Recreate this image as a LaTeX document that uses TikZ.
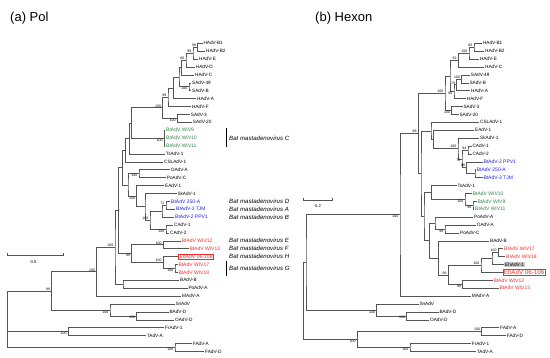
\documentclass[tikz,border=0pt]{standalone}
\usepackage{fontspec}
\setmainfont{Liberation Sans}
\usetikzlibrary{arrows.meta,calc,positioning}
\definecolor{treegray}{HTML}{555555}
\definecolor{batgreen}{HTML}{2E8540}
\definecolor{batblue}{HTML}{1E1EF0}
\definecolor{batred}{HTML}{F42A2A}
\tikzset{
  br/.style={draw=treegray,line width=0.55pt},
  lf/.style={anchor=west,inner sep=0.8pt,font=\fontsize{4.7}{5}\selectfont},
  bat/.style={text=#1,font=\fontsize{5}{5}\selectfont},
  bs/.style={inner sep=0.3pt,font=\fontsize{3.5}{4}\selectfont},
  al/.style={anchor=south east,xshift=-1.2pt,yshift=0.2pt},
  bl/.style={anchor=north east,xshift=-1.2pt,yshift=-0.2pt},
  grp/.style={anchor=west,inner sep=0pt,font=\fontsize{6.1}{7}\selectfont\itshape},
  ttl/.style={anchor=west,inner sep=0pt,font=\fontsize{13}{14}\selectfont},
  boxed/.style={draw=batred,text=batred,line width=0.4pt,inner sep=1pt,font=\fontsize{#1}{6}\selectfont},
}
% leaf: name, x, row, text
\newcommand\leaf[5][]{\node[lf,#1] (#2) at (#3,{43.3+7.9*#4}) {#5};}
% clade: name, x, upper child, lower child
\newcommand\clade[4]{%
  \path let \p1=(#3), \p2=(#4) in coordinate (#1) at (#2pt,{0.5*(\y1+\y2)});
  \draw[br] (#3) -| (#1) |- (#4);}
\newcommand\boot[3]{\node[bs,#2] (b-#1) at (#1) {#3};}
\begin{document}
\begin{tikzpicture}[x=1pt,y=-1pt]
  \useasboundingbox (0,0) rectangle (550,358);
  \node[ttl] (ttlA) at (10,18.3) {(a) Pol};
  \node[ttl] (ttlB) at (315,18.3) {(b) Hexon};

  % ---- Pol ----
  \leaf{pB1}{202.5}{0}{HAdV-B1}
  \leaf{pB2}{205.2}{1}{HAdV-B2}
  \leaf{pHE}{198.2}{2}{HAdV-E}
  \leaf{pHD}{194.9}{3}{HAdV-D}
  \leaf{pHC}{194.2}{4}{HAdV-C}
  \leaf{pS49l}{191.2}{5}{SAdV-49}
  \leaf{pSB}{191.2}{6}{SAdV-B}
  \leaf{pHA}{196.2}{7}{HAdV-A}
  \leaf{pHF}{191.2}{8}{HAdV-F}
  \leaf{pS3l}{189.9}{9}{SAdV-3}
  \leaf{pS20}{191.9}{10}{SAdV-20}
  \leaf[bat=batgreen]{pW9}{165.2}{11}{BtAdV WIV9}
  \leaf[bat=batgreen]{pW10}{165.2}{12}{BtAdV WIV10}
  \leaf[bat=batgreen]{pW11}{165.2}{13}{BtAdV WIV11}
  \leaf{pTs1}{164.9}{14}{TsAdV-1}
  \leaf{pCSL1}{163.2}{15}{CSLAdV-1}
  \leaf{pOA1}{169.9}{16}{OAdV-A}
  \leaf{pPoC}{165.9}{17}{PoAdV-C}
  \leaf{pEAd}{164.2}{18}{EAdV-1}
  \leaf{pSk1}{176.5}{19}{SkAdV-1}
  \leaf[bat=batblue]{p250}{170.2}{20}{BtAdV 250-A}
  \leaf[bat=batblue]{p3TJM}{175.2}{21}{BtAdV-3 TJM}
  \leaf[bat=batblue]{pPPV1}{174.2}{22}{BtAdV-2 PPV1}
  \leaf{pCAd1}{173.2}{23}{CAdV-1}
  \leaf{pCAd2}{169.2}{24}{CAdV-2}
  \leaf[bat=batred]{pW12}{180.9}{25}{BtAdV WIV12}
  \leaf[bat=batred]{pW13}{188.5}{26}{BtAdV WIV13}
  \leaf[boxed=5.1]{pEd1}{178.3}{27}{EdAdV 06-106}
  \leaf[bat=batred]{pW17}{177.5}{28}{BtAdV WIV17}
  \leaf[bat=batred]{pW18}{177.5}{29}{BtAdV WIV18}
  \leaf{pBAB}{179.2}{30}{BAdV-B}
  \leaf{pPoA}{187.5}{31}{PoAdV-A}
  \leaf{pMA}{181.2}{32}{MAdV-A}
  \leaf{pSn1}{174.5}{33}{SnAdV}
  \leaf{pBD1}{168.5}{34}{BAdV-D}
  \leaf{pOD}{174.2}{35}{OAdV-D}
  \leaf{pFr}{164.2}{36}{FrAdV-1}
  \leaf{pTA}{145.9}{37}{TAdV-A}
  \leaf{pFAA}{191.9}{38}{FAdV-A}
  \leaf{pFAD}{204.2}{39}{FAdV-D}

  \clade{pB12}{197.7}{pB1}{pB2}
  \clade{pE}{193}{pB12}{pHE}
  \clade{pD}{186}{pE}{pHD}
  \clade{pC}{181.5}{pD}{pHC}
  \clade{pS49}{189}{pS49l}{pSB}
  \clade{pCS}{179}{pC}{pS49}
  \clade{pA}{173.3}{pCS}{pHA}
  \clade{pF}{168}{pA}{pHF}
  \clade{pS3}{177.3}{pS3l}{pS20}
  \clade{pPrim}{162.7}{pF}{pS3}
  \clade{pWIV}{164.3}{pW9}{pW11}
  \draw[br] (pWIV |- pW10) -- (pW10);
  \clade{pPW}{131.7}{pPrim}{pWIV}
  \clade{pTs}{129.3}{pPW}{pTs1}
  \clade{pCSL}{125.7}{pTs}{pCSL1}
  \clade{pOA}{139}{pOA1}{pPoC}
  \clade{p72}{166}{p250}{p3TJM}
  \clade{pBat}{162}{p72}{pPPV1}
  \clade{pCAd}{166}{pCAd1}{pCAd2}
  \clade{pBC}{150}{pBat}{pCAd}
  \clade{pSk}{145}{pSk1}{pBC}
  \clade{pE1}{136.7}{pEAd}{pSk}
  \clade{pOE}{128}{pOA}{pE1}
  \clade{pX}{122.3}{pCSL}{pOE}
  \clade{p1213}{163.3}{pW12}{pW13}
  \clade{p1718}{175}{pW17}{pW18}
  \clade{pEd}{163.3}{pEd1}{p1718}
  \clade{pRed}{131.7}{p1213}{pEd}
  \clade{pZ}{118.3}{pX}{pRed}
  \clade{pBP}{123}{pBAB}{pPoA}
  \clade{p100b}{115}{pZ}{pBP}
  \clade{p100a}{96.7}{p100b}{pMA}
  \clade{pBD}{136.7}{pBD1}{pOD}
  \clade{pSn}{110}{pSn1}{pBD}
  \clade{p99}{51.7}{p100a}{pSn}
  \clade{pFrT}{68.3}{pFr}{pTA}
  \clade{pFA}{175}{pFAA}{pFAD}
  \clade{pRoot}{7.3}{p99}{pFA}
  \draw[br] (pRoot |- pFrT) -- (pFrT);

  \boot{pB12}{al}{99}
  \boot{pE}{al}{99}
  \boot{pD}{al}{80}
  \boot{pS49}{bl}{100}
  \boot{pF}{al}{99}
  \boot{pPrim}{al}{100}
  \boot{pS3}{bl}{100}
  \boot{pWIV}{bl}{100}
  \boot{pOA}{bl}{100}
  \boot{p72}{al}{72}
  \boot{pBC}{al}{100}
  \boot{pCAd}{bl}{100}
  \boot{pE1}{bl}{100}
  \boot{p1213}{al}{100}
  \boot{pEd}{al}{100}
  \boot{p1718}{bl}{100}
  \boot{pRed}{bl}{99}
  \boot{p100b}{al}{100}
  \boot{p100a}{al}{100}
  \boot{p99}{al}{99}
  \boot{pBD}{bl}{100}
  \boot{pSn}{bl}{100}
  \boot{pFrT}{bl}{100}
  \boot{pFA}{bl}{100}

  % species labels
  \coordinate (barCt) at (226.7,128.3);
  \coordinate (barCb) at (226.7,146.7);
  \draw[line width=1pt] (barCt) -- (barCb);
  \node[grp] (gC) at (229,{43.3+7.9*12}) {Bat mastadenovirus C};
  \node[grp] (gD) at (229,{43.3+7.9*20}) {Bat mastadenovirus D};
  \node[grp] (gA) at (229,{43.3+7.9*21}) {Bat mastadenovirus A};
  \node[grp] (gB) at (229,{43.3+7.9*22}) {Bat mastadenovirus B};
  \node[grp] (gE) at (229,{43.3+7.9*25}) {Bat mastadenovirus E};
  \node[grp] (gF) at (229,{43.3+7.9*26}) {Bat mastadenovirus F};
  \node[grp] (gH) at (229,{43.3+7.9*27}) {Bat mastadenovirus H};
  \coordinate (barGt) at (226.7,261);
  \coordinate (barGb) at (226.7,276);
  \draw[line width=1pt] (barGt) -- (barGb);
  \node[grp] (gG) at (229,{43.3+7.9*28.5}) {Bat mastadenovirus G};

  % scale bar
  \coordinate (sbA1) at (7.3,255);
  \coordinate (sbA2) at (63.3,255);
  \draw[br,{Bar[width=3pt]}-{Bar[width=3pt]}] (sbA1) -- (sbA2);
  \node[bs,font=\fontsize{4.2}{5}\selectfont] (sbA) at (33.5,262.3) {0.5};

  % ---- Hexon ----
  \leaf{hB1}{482}{0}{HAdV-B1}
  \leaf{hB2}{484.2}{1}{HAdV-B2}
  \leaf{hHE}{479.2}{2}{HAdV-E}
  \leaf{hHC}{484.2}{3}{HAdV-C}
  \leaf{hS49l}{469.9}{4}{SAdV-49}
  \leaf{hSB}{468.5}{5}{SAdV-B}
  \leaf{hHA}{470.2}{6}{HAdV-A}
  \leaf{hHF}{465.9}{7}{HAdV-F}
  \leaf{hS3l}{462.5}{8}{SAdV-3}
  \leaf{hS20}{458.5}{9}{SAdV-20}
  \leaf{hCSL}{479.2}{10}{CSLAdV-1}
  \leaf{hEAd}{474.2}{11}{EAdV-1}
  \leaf{hSk1}{479.2}{12}{SkAdV-1}
  \leaf{hCAd1}{471.5}{13}{CAdV-1}
  \leaf{hCAd2}{471.5}{14}{CAdV-2}
  \leaf[bat=batblue]{hPPV1}{482.5}{15}{BtAdV-2 PPV1}
  \leaf[bat=batblue]{h250}{475.9}{16}{BtAdV 250-A}
  \leaf[bat=batblue]{h3TJM}{482.5}{17}{BtAdV-3 TJM}
  \leaf{hTs1}{456.5}{18}{TsAdV-1}
  \leaf[bat=batgreen]{hW10}{471.9}{19}{BtAdV WIV10}
  \leaf[bat=batgreen]{hW9}{476.5}{20}{BtAdV WIV9}
  \leaf[bat=batgreen]{hW11}{474.2}{21}{BtAdV WIV11}
  \leaf{hPoA}{473.2}{22}{PoAdV-A}
  \leaf{hOA}{475.9}{23}{OAdV-A}
  \leaf{hPoC1}{459.2}{24}{PoAdV-C}
  \leaf{hBAB}{489.2}{25}{BAdV-B}
  \leaf[bat=batred]{hW17}{503.2}{26}{BtAdV WIV17}
  \leaf[bat=batred]{hW18}{505.2}{27}{BtAdV WIV18}
  \leaf[fill=black!22]{hEh1}{504.2}{28}{EhAdV-1}
  \leaf[boxed=6.2]{hEh06}{502.7}{29}{EhAdV 06-106}
  \leaf[bat=batred]{hW12}{492.5}{30}{BtAdV WIV12}
  \leaf[bat=batred]{hW13}{498.5}{31}{BtAdV WIV13}
  \leaf{hMA}{470.9}{32}{MAdV-A}
  \leaf{hSn1}{418.5}{33}{SnAdV}
  \leaf{hBD1}{438.5}{34}{BAdV-D}
  \leaf{hOD}{429.2}{35}{OAdV-D}
  \leaf{hFAA}{499.2}{36}{FAdV-A}
  \leaf{hFAD}{505.9}{37}{FAdV-D}
  \leaf{hFr}{470.9}{38}{FrAdV-1}
  \leaf{hTA}{475.9}{39}{TAdV-A}

  \clade{hB12}{474}{hB1}{hB2}
  \clade{hE}{469}{hB12}{hHE}
  \clade{hC}{458.3}{hE}{hHC}
  \clade{hS49}{461.7}{hS49l}{hSB}
  \clade{hA}{456.7}{hS49}{hHA}
  \clade{hF}{454}{hA}{hHF}
  \clade{hCF}{450}{hC}{hF}
  \clade{hS3}{451.7}{hS3l}{hS20}
  \clade{hPrim}{445}{hCF}{hS3}
  \clade{hCAd}{468}{hCAd1}{hCAd2}
  \clade{hB2n}{475}{h250}{h3TJM}
  \clade{hBat}{466.7}{hPPV1}{hB2n}
  \clade{h76}{462}{hCAd}{hBat}
  \clade{hSk}{458}{hSk1}{h76}
  \clade{hEA}{433.5}{hEAd}{hSk}
  \clade{hCE}{431}{hCSL}{hEA}
  \clade{hW911}{473}{hW9}{hW11}
  \clade{hW}{465}{hW10}{hW911}
  \clade{hTs}{431.7}{hTs1}{hW}
  \clade{hPoC}{445}{hOA}{hPoC1}
  \clade{hPo}{435}{hPoA}{hPoC}
  \clade{h1718}{498.3}{hW17}{hW18}
  \clade{hEh}{492}{h1718}{hEh1}
  \clade{hEhh}{481}{hEh}{hEh06}
  \clade{h1213}{462.7}{hW12}{hW13}
  \clade{hRed}{448.3}{hEhh}{h1213}
  \clade{hBB}{438.3}{hBAB}{hRed}
  \clade{hPB}{429.3}{hPo}{hBB}
  \clade{hT2}{424}{hTs}{hPB}
  \clade{hRest}{421}{hCE}{hT2}
  \clade{hUp}{418.3}{hPrim}{hRest}
  \clade{hBig}{400}{hUp}{hMA}
  \clade{hBD}{406.7}{hBD1}{hOD}
  \clade{hSn}{376.7}{hSn1}{hBD}
  \clade{hA1}{306}{hBig}{hSn}
  \clade{hFA}{481.7}{hFAA}{hFAD}
  \clade{hFrT}{410}{hFr}{hTA}
  \clade{hB1n}{357.3}{hFA}{hFrT}
  \clade{hRoot}{303.5}{hA1}{hB1n}

  \boot{hB12}{al}{80}
  \boot{hE}{al}{100}
  \boot{hC}{al}{92}
  \boot{hS49}{al}{100}
  \boot{hA}{al}{79}
  \boot{hF}{bl}{90}
  \boot{hS3}{bl}{100}
  \boot{hPrim}{al}{100}
  \boot{hUp}{al}{88}
  \boot{hSk}{al}{100}
  \boot{h76}{bl}{76}
  \boot{hCAd}{al}{94}
  \boot{hBat}{al}{88}
  \boot{hW}{bl}{100}
  \boot{hW911}{bl}{99}
  \boot{hPoC}{bl}{99}
  \boot{h1718}{al}{100}
  \boot{hEhh}{al}{100}
  \boot{h1213}{bl}{99}
  \boot{hRed}{al}{96}
  \boot{hBig}{bl}{100}
  \boot{hSn}{bl}{100}
  \boot{hBD}{bl}{100}
  \boot{hFA}{al}{100}
  \boot{hFrT}{bl}{100}
  \boot{hB1n}{bl}{100}

  \coordinate (sbB1) at (303.3,200);
  \coordinate (sbB2) at (332.3,200);
  \draw[br,{Bar[width=3pt]}-{Bar[width=3pt]}] (sbB1) -- (sbB2);
  \node[bs,font=\fontsize{4.2}{5}\selectfont] (sbB) at (318,206) {0.2};
\end{tikzpicture}
\end{document}
